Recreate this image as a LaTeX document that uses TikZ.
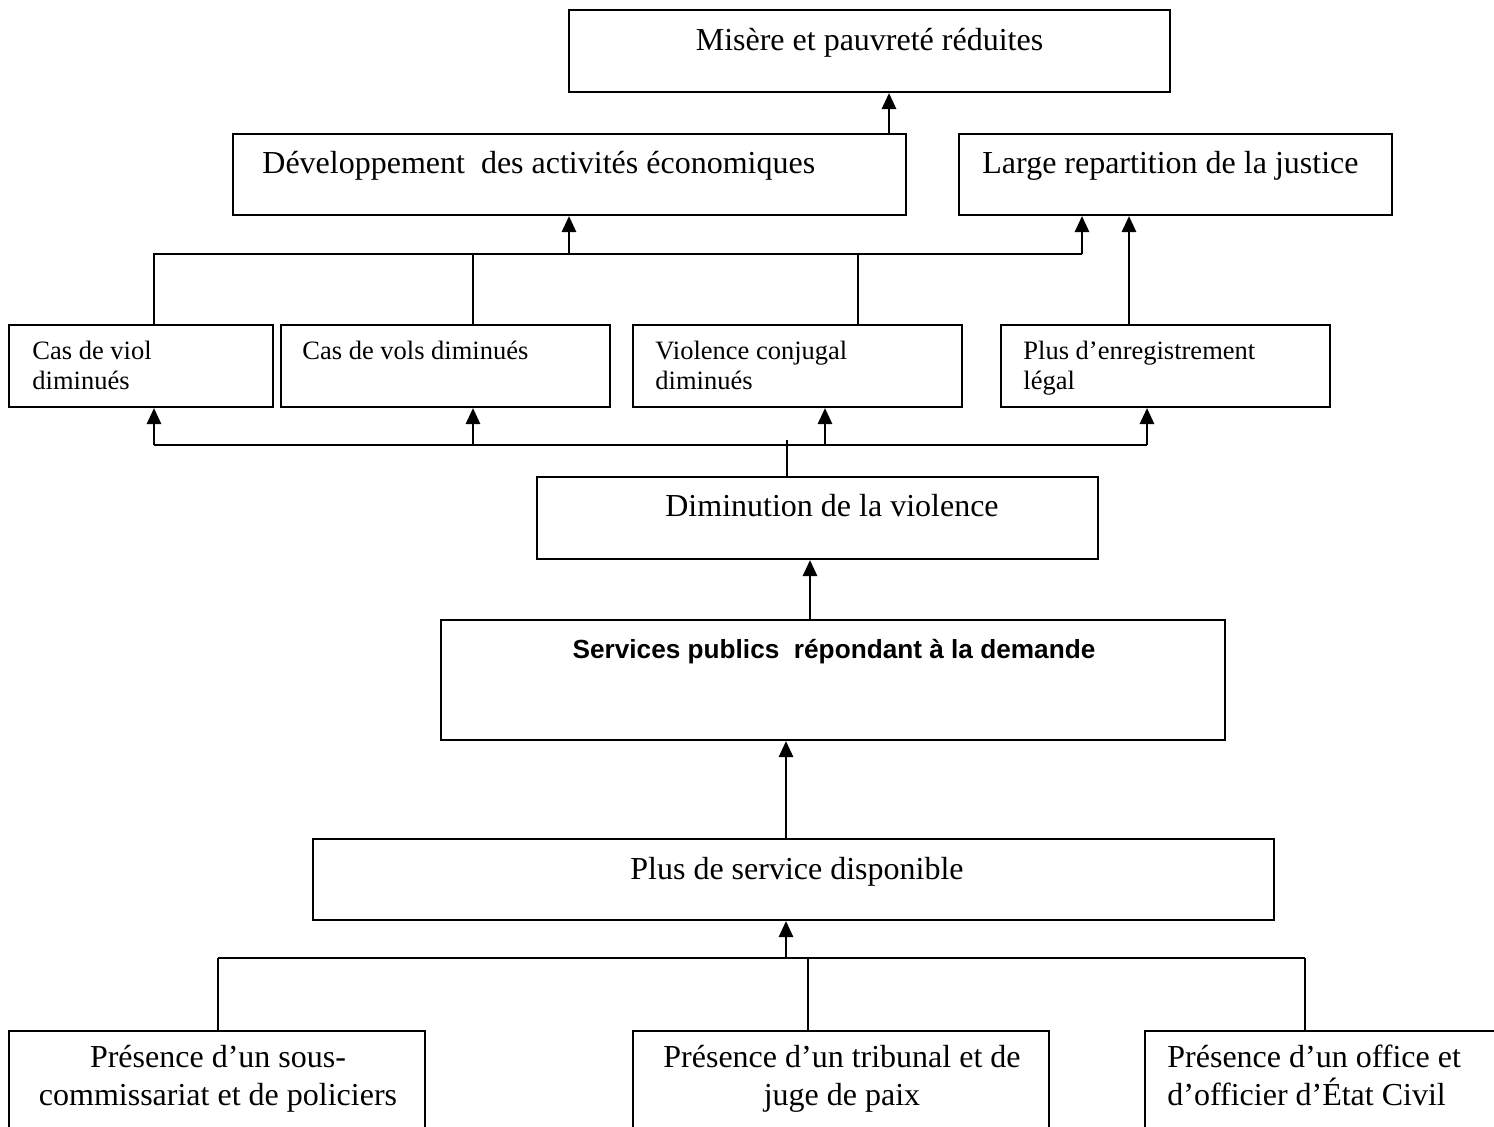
\documentclass[tikz,border=0pt]{standalone}
\usepackage{fontspec}
\setmainfont{Liberation Serif}
\newfontfamily\arialfont{Liberation Sans}
\usetikzlibrary{fit,arrows.meta}
\begin{document}
\begin{tikzpicture}[x=0.5pt,y=-0.5pt,
  box/.style={draw, line width=1pt, inner sep=0pt},
  big/.style={font=\fontsize{16}{20}\selectfont, inner sep=0pt},
  small/.style={font=\fontsize{13.25}{15}\selectfont, inner sep=0pt},
  boldtxt/.style={font=\arialfont\bfseries\fontsize{13.1}{15}\selectfont, inner sep=0pt},
  ln/.style={line width=0.9pt},
  arr/.style={line width=1.4pt, -{Triangle[length=8pt,width=7pt]}}]
\useasboundingbox (0,0) rectangle (1494,1126);

% boxes
\node[box, fit={(569,10)(1170,92)}] (mis) {};
\node[box, fit={(233,134)(906,215)}] (dev) {};
\node[box, fit={(959,134)(1392,215)}] (lar) {};
\node[box, fit={(9,325)(273,407)}] (viol) {};
\node[box, fit={(281,325)(610,407)}] (vols) {};
\node[box, fit={(633,325)(962,407)}] (conj) {};
\node[box, fit={(1001,325)(1330,407)}] (enr) {};
\node[box, fit={(537,477)(1098,559)}] (dim) {};
\node[box, fit={(441,620)(1225,740)}] (serv) {};
\node[box, fit={(313,839)(1274,920)}] (plus) {};
\node[box, fit={(9,1031)(425,1145)}] (pa) {};
\node[box, fit={(633,1031)(1049,1145)}] (pb) {};
\node[box, fit={(1145,1031)(1561,1145)}] (pc) {};

% texts
\node[big, anchor=base] (misT) at (869.5,50) {Misère et pauvreté réduites};
\node[big, anchor=base west] (devT) at (262,173) {Développement\ \ des activités économiques};
\node[big, anchor=base west] (larT) at (982,173) {Large repartition de la justice};
\node[small, anchor=base west] (violT1) at (32,359) {Cas de viol};
\node[small, anchor=base west] (violT2) at (32,389) {diminués};
\node[small, anchor=base west] (volsT) at (302,359) {Cas de vols diminués};
\node[small, anchor=base west] (conjT1) at (655,359) {Violence conjugal};
\node[small, anchor=base west] (conjT2) at (655,389) {diminués};
\node[small, anchor=base west] (enrT1) at (1023,359) {Plus d’enregistrement};
\node[small, anchor=base west] (enrT2) at (1023,389) {légal};
\node[big, anchor=base] (dimT) at (832,516) {Diminution de la violence};
\node[boldtxt, anchor=base] (servT) at (834,658) {Services publics\ \ répondant à la demande};
\node[big, anchor=base] (plusT) at (797,879) {Plus de service disponible};
\node[big, anchor=base] (paT1) at (218,1067) {Présence d’un sous-};
\node[big, anchor=base] (paT2) at (218,1105) {commissariat et de policiers};
\node[big, anchor=base] (pbT1) at (842,1067) {Présence d’un tribunal et de};
\node[big, anchor=base] (pbT2) at (842,1105) {juge de paix};
\node[big, anchor=base west] (pcT1) at (1167,1067) {Présence d’un office et};
\node[big, anchor=base west] (pcT2) at (1167,1105) {d’officier d’État Civil};

% junction coordinates
\coordinate (xa) at (889,0);
\coordinate (h1l) at (154,254);
\coordinate (h1m) at (569,254);
\coordinate (h1r) at (1082,254);
\coordinate (x2) at (473,0);
\coordinate (x3) at (858,0);
\coordinate (x4) at (1129,0);
\coordinate (h2l) at (154,445);
\coordinate (h2b) at (473,445);
\coordinate (h2c) at (825,445);
\coordinate (h2r) at (1147,445);
\coordinate (h2m) at (787,440);
\coordinate (x5) at (810,0);
\coordinate (x6) at (786,0);
\coordinate (h3l) at (218,958);
\coordinate (h3m) at (786,958);
\coordinate (h3c) at (808,958);
\coordinate (h3r) at (1305,958);

% connectors top
\draw[arr] (dev.north -| xa) -- (mis.south -| xa);
\draw[ln] (viol.north -| h1l) -- (h1l) -- (h1r);
\draw[ln] (vols.north -| x2) -- (h1l -| x2);
\draw[ln] (conj.north -| x3) -- (h1l -| x3);
\draw[arr] (h1m) -- (dev.south -| h1m);
\draw[arr] (h1r) -- (lar.south -| h1r);
\draw[arr] (enr.north -| x4) -- (lar.south -| x4);

% connectors middle
\draw[ln] (h2l) -- (h2r);
\draw[arr] (h2l) -- (viol.south -| h2l);
\draw[arr] (h2b) -- (vols.south -| h2b);
\draw[arr] (h2c) -- (conj.south -| h2c);
\draw[arr] (h2r) -- (enr.south -| h2r);
\draw[ln] (dim.north -| h2m) -- (h2m);
\draw[arr] (serv.north -| x5) -- (dim.south -| x5);
\draw[arr] (plus.north -| x6) -- (serv.south -| x6);

% connectors bottom
\draw[ln] (h3l) -- (h3r);
\draw[ln] (pa.north -| h3l) -- (h3l);
\draw[ln] (pb.north -| h3c) -- (h3c);
\draw[ln] (pc.north -| h3r) -- (h3r);
\draw[arr] (h3m) -- (plus.south -| h3m);
\end{tikzpicture}
\end{document}
